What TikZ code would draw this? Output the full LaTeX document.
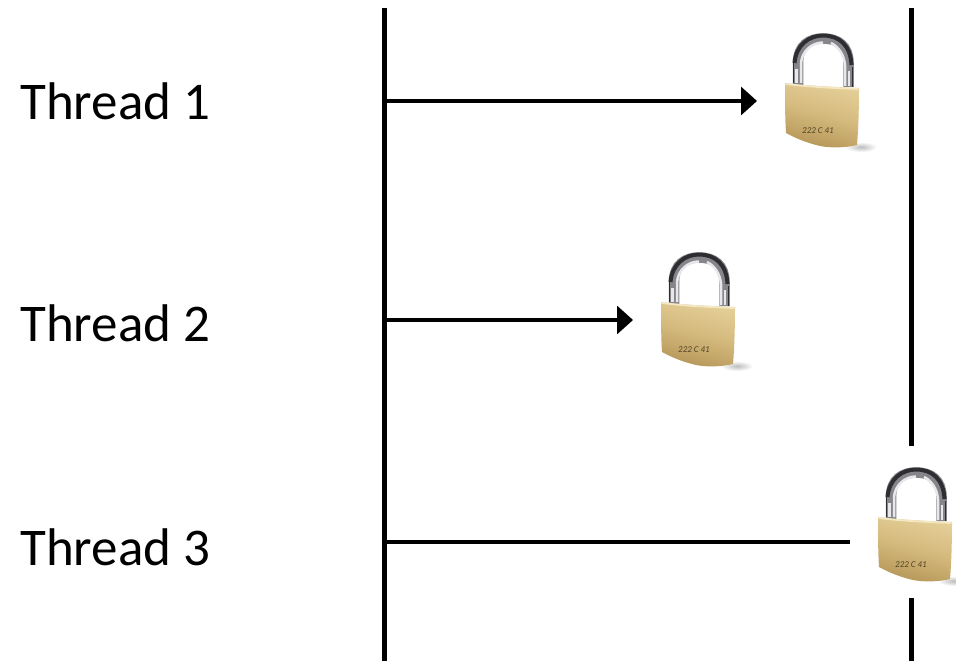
\documentclass[tikz,border=0pt]{standalone}
\usepackage{fontspec}
\setmainfont{Carlito}
\usetikzlibrary{arrows.meta}
\definecolor{brassA}{HTML}{E4CF98}
\definecolor{brassB}{HTML}{D4B97C}
\definecolor{brassC}{HTML}{B59658}
\definecolor{brassTop}{HTML}{F3E7C4}
\definecolor{steelD}{HTML}{2E2E32}
\definecolor{steelM}{HTML}{85858A}
\definecolor{steelL}{HTML}{E8E8EA}
\tikzset{
  threadlabel/.style={font=\fontsize{53}{60}\selectfont,text=black,anchor=west,inner sep=0pt},
  bar/.style={line width=5pt,black},
  call/.style={line width=3.2pt,black},
  callhead/.style={call,-{Triangle[length=16pt,width=28pt]}},
  lock/.pic={
    % soft shadow at the lower right
    \shade[inner color=black!26,outer color=white] (76,114) ellipse (16 and 5);
    % shackle
    \draw[line width=10.5pt,steelM] (13,52) -- (13,30) .. controls (13,12) and (25,5.5) .. (38,5.5) .. controls (53,5.5) and (63.5,13) .. (63.5,30) -- (63.5,54);
    \draw[line width=4pt,steelD] (9.5,30) .. controls (11,12) and (24,2.5) .. (38,2.5) .. controls (54,2.5) and (65.5,12) .. (66.5,32);
    \draw[line width=2.5pt,steelL] (16,50) -- (16,30) .. controls (17,18) and (27,9.5) .. (38,9.5);
    \draw[line width=2.5pt,steelL] (60,53) -- (60,32) .. controls (59,22) and (54,14) .. (46,10);
    \draw[line width=3pt,steelL] (11,50) -- (11,36);
    \draw[line width=2.5pt,steelL] (64,53) -- (64,38);
    \draw[line width=1.3pt,steelD] (8.5,50) -- (8.5,30);
    \draw[line width=1.5pt,steelD] (67.5,54) -- (67.5,34);
    % body
    \shade[shading=axis,top color=brassA,bottom color=brassC,middle color=brassB,shading angle=-15]
      (0,50) .. controls (25,53) and (50,54) .. (74,55)
      .. controls (74,72) and (73.5,95) .. (72,112)
      .. controls (60,115) and (45,115) .. (35,113)
      .. controls (22,110) and (10,105) .. (1,100)
      .. controls (0,85) and (0,65) .. (0,50) -- cycle;
    \draw[brassTop,line width=1.8pt,line cap=round] (1,51) .. controls (25,54) and (50,55) .. (73,56);
    \node[font=\fontsize{9}{9}\selectfont\itshape,text=brassC!45!black,inner sep=0pt] at (33,98) {222 C 41};
  }
}
\begin{document}
\begin{tikzpicture}[x=1pt,y=-1pt]
\useasboundingbox[fill=white] (0,0) rectangle (956,661);
\coordinate (leftTop) at (384,8);
\coordinate (leftBottom) at (384,661);
\coordinate (rightTop) at (911,8);
\coordinate (rightGapTop) at (911,446);
\coordinate (rightGapBottom) at (911,598);
\coordinate (rightBottom) at (911,661);
\draw[bar] (leftTop) -- (leftBottom);
\draw[bar] (rightTop) -- (rightGapTop);
\draw[bar] (rightGapBottom) -- (rightBottom);

\node[threadlabel] (t1) at (20,101) {Thread 1};
\node[threadlabel] (t2) at (20,323) {Thread 2};
\node[threadlabel] (t3) at (20,547) {Thread 3};

\coordinate (s1) at (384,101);
\coordinate (e1) at (757,101);
\coordinate (s2) at (384,320);
\coordinate (e2) at (633,320);
\coordinate (s3) at (384,542);
\coordinate (e3) at (850,542);
\draw[callhead] (s1) -- (e1);
\draw[callhead] (s2) -- (e2);
\draw[call] (s3) -- (e3);

\pic at (785,33) {lock};
\pic at (661,252) {lock};
\pic at (878,467) {lock};
\end{tikzpicture}
\end{document}
